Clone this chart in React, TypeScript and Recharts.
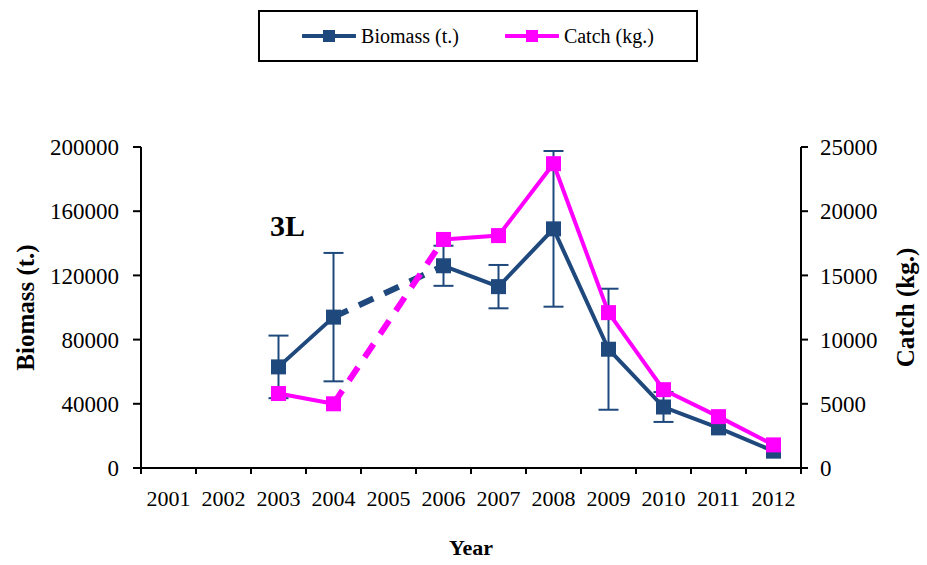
import { ErrorBar, Legend, Line, LineChart, ReferenceDot, XAxis, YAxis } from 'recharts'

const years = ['2001', '2002', '2003', '2004', '2005', '2006', '2007', '2008', '2009', '2010', '2011', '2012']
const biomass = [null, null, 63000, 94000, null, 126000, 113000, 149000, 74000, 38000, 25000, 10500]
const biomassErr = [null, null, 19500, 40000, null, 12500, 13500, 48500, 37700, 9300, 0, 0]
const catchKg = [null, null, 5800, 5000, null, 17800, 18100, 23700, 12100, 6100, 4000, 1800]
// 2005 has no survey: the gap is bridged with a dashed segment
const biomassGap = [null, null, null, 94000, null, 126000, null, null, null, null, null, null]
const catchGap = [null, null, null, 5000, null, 17800, null, null, null, null, null, null]

const leftTicks = [0, 40000, 80000, 120000, 160000, 200000]
const rightTicks = [0, 5000, 10000, 15000, 20000, 25000]

const BLUE = '#1F497D'
const PINK = '#FF00FF'
const FONT = '"Liberation Serif", "Times New Roman", serif'

const data = years.map((year, i) => ({
    year,
    biomass: biomass[i],
    biomassErr: biomassErr[i],
    biomassGap: biomassGap[i],
    catchKg: catchKg[i],
    catchGap: catchGap[i],
}))

const STEP = 55

const squareDot = (color: string) => (props: any) => {
    const { cx, cy, value, index } = props
    if (cx == null || cy == null || value == null) return <g key={index} />
    return <rect key={index} x={cx - 7.5} y={cy - 7.5} width={15} height={15} fill={color} />
}

const YearTick = (props: any) => {
    const { x, y, payload, index } = props
    return (
        <g>
            <line x1={x - STEP / 2} x2={x - STEP / 2} y1={y - 8} y2={y - 2} stroke="#000" strokeWidth={2} />
            {index === years.length - 1 && (
                <line x1={x + STEP / 2} x2={x + STEP / 2} y1={y - 8} y2={y - 2} stroke="#000" strokeWidth={2} />
            )}
            <text x={x} y={y + 30} textAnchor="middle" fontSize={22} fontFamily={FONT} fill="#000">
                {payload.value}
            </text>
        </g>
    )
}

const LegendBox = (props: any) => {
    const items = (props.payload || []).filter((p: any) => p.type !== 'none')
    return (
        <div
            style={{
                border: '2px solid #000',
                height: 52,
                boxSizing: 'border-box',
                display: 'flex',
                alignItems: 'center',
                justifyContent: 'center',
                gap: 46,
                fontFamily: FONT,
                fontSize: 20,
            }}
        >
            {items.map((item: any) => (
                <div key={item.value} style={{ display: 'flex', alignItems: 'center', gap: 5 }}>
                    <svg width={54} height={16}>
                        <line x1={1} x2={53} y1={8} y2={8} stroke={item.color} strokeWidth={4} strokeLinecap="round" />
                        <rect x={21} y={2} width={12} height={12} fill={item.color} />
                    </svg>
                    <span>{item.value}</span>
                </div>
            ))}
        </div>
    )
}

const VerticalTitle = (x: number, text: string) => (props: any) => {
    const vb = props.viewBox
    const cy = vb.y + vb.height / 2
    return (
        <text
            x={x}
            y={cy}
            transform={`rotate(-90, ${x}, ${cy})`}
            textAnchor="middle"
            dominantBaseline="central"
            fontSize={25}
            fontWeight="bold"
            fontFamily={FONT}
            fill="#000"
        >
            {text}
        </text>
    )
}

export default function App() {
    return (
        <div style={{ width: 927, height: 565, background: '#fff' }}>
            <style>{'body{margin:0}'}</style>
            <LineChart width={927} height={565} data={data} margin={{ top: 147, right: 0, bottom: 0, left: 0 }}>
                <XAxis
                    dataKey="year"
                    height={97}
                    padding={{ left: STEP / 2, right: STEP / 2 }}
                    axisLine={{ stroke: '#000', strokeWidth: 2 }}
                    tickLine={false}
                    tick={<YearTick />}
                    interval={0}
                    label={{
                        content: (p: any) => (
                            <text
                                x={p.viewBox.x + p.viewBox.width / 2}
                                y={555}
                                textAnchor="middle"
                                fontSize={22}
                                fontWeight="bold"
                                fontFamily={FONT}
                                fill="#000"
                            >
                                Year
                            </text>
                        ),
                    }}
                />
                <YAxis
                    yAxisId="l"
                    width={141}
                    domain={[0, 200000]}
                    ticks={leftTicks}
                    interval={0}
                    axisLine={{ stroke: '#000', strokeWidth: 2 }}
                    tickLine={{ stroke: '#000', strokeWidth: 2 }}
                    tickSize={8}
                    tickMargin={14}
                    tick={{ fill: '#000', fontSize: 23, fontFamily: FONT }}
                    label={{ content: VerticalTitle(25, 'Biomass (t.)') }}
                />
                <YAxis
                    yAxisId="r"
                    orientation="right"
                    width={126}
                    domain={[0, 25000]}
                    ticks={rightTicks}
                    interval={0}
                    axisLine={{ stroke: '#000', strokeWidth: 2 }}
                    tickLine={{ stroke: '#000', strokeWidth: 2 }}
                    tickSize={7}
                    tickMargin={12}
                    tick={{ fill: '#000', fontSize: 23, fontFamily: FONT, textAnchor: 'start' }}
                    label={{ content: VerticalTitle(905, 'Catch (kg.)') }}
                />
                <Legend
                    layout="horizontal"
                    verticalAlign="middle"
                    align="center"
                    content={<LegendBox />}
                    wrapperStyle={{ top: 10, left: 258, width: 440, height: 52 }}
                />
                <Line
                    yAxisId="l"
                    dataKey="biomassGap"
                    stroke={BLUE}
                    strokeWidth={6}
                    strokeDasharray="16 12"
                    connectNulls
                    dot={false}
                    activeDot={false}
                    legendType="none"
                    isAnimationActive={false}
                />
                <Line
                    yAxisId="r"
                    dataKey="catchGap"
                    stroke={PINK}
                    strokeWidth={6}
                    strokeDasharray="16 12"
                    connectNulls
                    dot={false}
                    activeDot={false}
                    legendType="none"
                    isAnimationActive={false}
                />
                <Line
                    yAxisId="l"
                    name="Biomass (t.)"
                    dataKey="biomass"
                    stroke={BLUE}
                    strokeWidth={4}
                    dot={squareDot(BLUE)}
                    activeDot={false}
                    isAnimationActive={false}
                >
                    <ErrorBar dataKey="biomassErr" width={10} stroke={BLUE} strokeWidth={2} direction="y" />
                </Line>
                <Line
                    yAxisId="r"
                    name="Catch (kg.)"
                    dataKey="catchKg"
                    stroke={PINK}
                    strokeWidth={4}
                    dot={squareDot(PINK)}
                    activeDot={false}
                    isAnimationActive={false}
                />
                <ReferenceDot
                    yAxisId="l"
                    x="2003"
                    y={151000}
                    r={0}
                    fill="none"
                    stroke="none"
                    label={{
                        content: (p: any) => (
                            <text
                                x={p.viewBox.x + 9}
                                y={p.viewBox.y}
                                textAnchor="middle"
                                dominantBaseline="central"
                                fontSize={30}
                                fontWeight="bold"
                                fontFamily={FONT}
                                fill="#000"
                            >
                                3L
                            </text>
                        ),
                    }}
                />
            </LineChart>
        </div>
    )
}
